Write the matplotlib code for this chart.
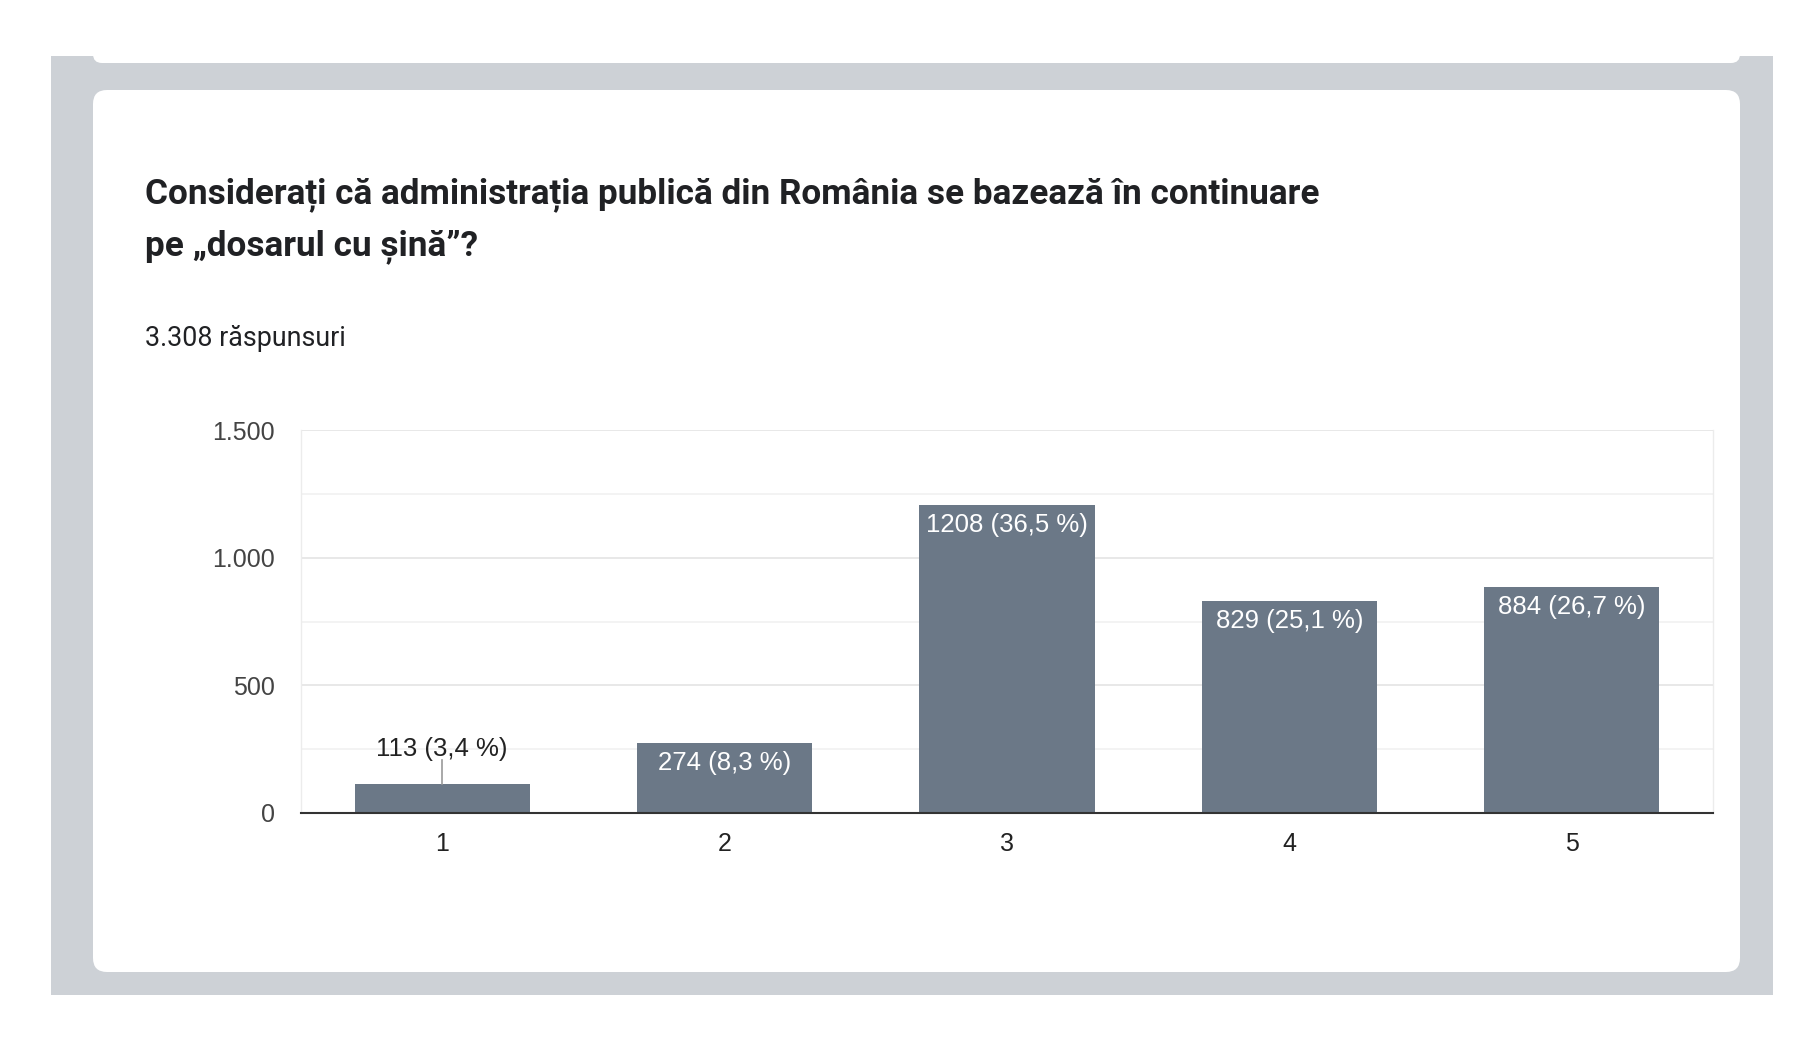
import matplotlib
matplotlib.use('Agg')
import matplotlib.pyplot as plt
import matplotlib.transforms as mtransforms
from matplotlib.patches import Rectangle, FancyBboxPatch

# data
categories = ['1', '2', '3', '4', '5']
counts = [113, 274, 1208, 829, 884]
percents = [3.4, 8.3, 36.5, 25.1, 26.7]
total = '3.308'
y_ticks = [0, 500, 1000, 1500]
y_tick_labels = ['0', '500', '1.000', '1.500']
title_lines = ['Considerați că administrația publică din România se bazează în continuare',
               'pe „dosarul cu șină”?']

W, H = 1804, 1038
bar_color = '#6b7887'
ident = mtransforms.IdentityTransform()

fig = plt.figure(figsize=(W / 100, H / 100), dpi=100)
fig.patch.set_facecolor('white')


def fx(x):
    return x / W


def fy(y):
    return 1 - y / H


# grey page frame and white cards (pixel coords, y measured from the top)
fig.add_artist(Rectangle((51, H - 995), 1773 - 51, 995 - 56, transform=ident,
                         facecolor='#cdd1d6', edgecolor='none', zorder=-3))
fig.add_artist(FancyBboxPatch((93, H - 63), 1740 - 93, 200, transform=ident,
                              boxstyle='round,pad=0,rounding_size=9',
                              facecolor='white', edgecolor='none', zorder=-2))
fig.add_artist(FancyBboxPatch((93, H - 972), 1740 - 93, 972 - 90, transform=ident,
                              boxstyle='round,pad=0,rounding_size=14',
                              facecolor='white', edgecolor='none', zorder=-2))

# title and subtitle
fig.text(fx(145), fy(203), title_lines[0], fontfamily='Roboto', fontweight='bold',
         fontsize=25.3, color='#202124', va='baseline')
fig.text(fx(145), fy(255), title_lines[1], fontfamily='Roboto', fontweight='bold',
         fontsize=25.3, color='#202124', va='baseline')
fig.text(fx(145), fy(346), total + ' răspunsuri', fontfamily='Roboto',
         fontsize=19.4, color='#202124', va='baseline')

ax = fig.add_axes([fx(301), fy(813), (1713 - 301) / W, (813 - 430) / H])
ax.set_facecolor('white')

x = list(range(1, len(categories) + 1))
ax.bar(x, counts, width=0.62, color=bar_color, zorder=3)

ax.set_xlim(0.5, 5.5)
ax.set_ylim(0, 1500)
ax.set_yticks(y_ticks)
ax.set_yticklabels(y_tick_labels)
ax.set_yticks([250, 750, 1250], minor=True)
ax.set_xticks(x)
ax.set_xticklabels(categories)
ax.tick_params(axis='both', which='both', length=0)
ax.tick_params(axis='y', pad=19, labelsize=18, labelcolor='#444444')
ax.tick_params(axis='x', pad=14, labelsize=18, labelcolor='#222222')
for lab in ax.get_xticklabels() + ax.get_yticklabels():
    lab.set_fontfamily('Liberation Sans')

ax.grid(axis='y', which='major', color='#e6e6e6', linewidth=1.3, zorder=0)
ax.grid(axis='y', which='minor', color='#f2f2f2', linewidth=1.3, zorder=0)
ax.set_axisbelow(True)
for side in ['left', 'right']:
    ax.spines[side].set_color('#ececec')
    ax.spines[side].set_linewidth(1.0)
ax.spines['top'].set_visible(False)
ax.spines['bottom'].set_color('#333333')
ax.spines['bottom'].set_linewidth(1.5)
ax.spines['bottom'].set_zorder(5)

# value labels: inside the bar in white, or above it with a leader line if the bar is short
for xi, c, p in zip(x, counts, percents):
    s = f'{c} ({p:.1f} %)'.replace('.', ',')
    if c < 200:
        # leader line, 24 px long, anchored at the bar top
        anchor = mtransforms.ScaledTranslation(xi, c, ax.transData)
        ax.add_artist(plt.Line2D([0, 0], [0, 24], transform=anchor,
                                 color='#999999', linewidth=1.2, zorder=6))
        ax.annotate(s, xy=(xi, c), xytext=(0, 35), textcoords='offset pixels',
                    ha='center', va='center', fontsize=18.5, color='#222222',
                    fontfamily='Liberation Sans', zorder=6)
    else:
        ax.annotate(s, xy=(xi, c), xytext=(0, -20), textcoords='offset pixels',
                    ha='center', va='center', fontsize=18.5, color='white',
                    fontfamily='Liberation Sans', zorder=6)

fig.savefig('out.png', dpi=100)
